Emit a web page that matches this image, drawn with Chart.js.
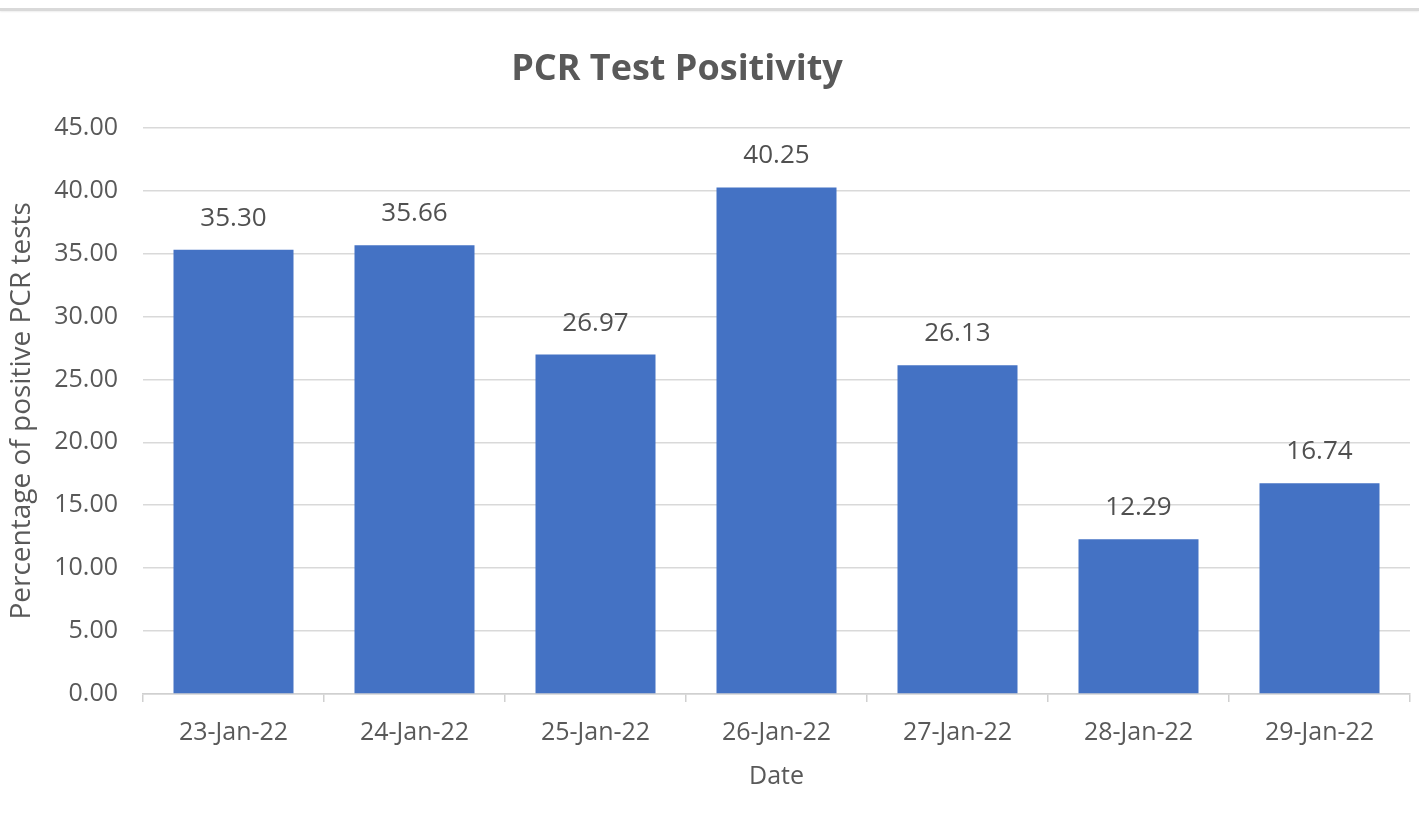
<!DOCTYPE html>
<html>
<head>
<meta charset="utf-8">
<script src="https://cdn.jsdelivr.net/npm/chart.js@4/dist/chart.umd.min.js"></script>
<style>
  html, body { margin: 0; padding: 0; background: #ffffff; }
  #wrap { position: relative; width: 1419px; height: 834px; }
  #topline { position: absolute; left: 0; top: 8px; width: 1419px; height: 3px; background: #d9d9d9; box-shadow: 0 1px 2px #eeeeee; }
  canvas { display: block; }
</style>
</head>
<body>
<div id="wrap">
  <canvas id="c" width="1419" height="834"></canvas>
  <div id="topline"></div>
</div>
<script>
const categories = ["23-Jan-22", "24-Jan-22", "25-Jan-22", "26-Jan-22", "27-Jan-22", "28-Jan-22", "29-Jan-22"];
const positivity = [35.30, 35.66, 26.97, 40.25, 26.13, 12.29, 16.74];
const yTicks = [0, 5, 10, 15, 20, 25, 30, 35, 40, 45];

const FONT = "'Open Sans', 'Noto Sans', sans-serif";
const TEXT = '#595959';

const valueLabels = {
  id: 'valueLabels',
  afterDatasetsDraw(chart) {
    const ctx = chart.ctx;
    const meta = chart.getDatasetMeta(0);
    const data = chart.data.datasets[0].data;
    ctx.save();
    ctx.font = '26px ' + FONT;
    ctx.fillStyle = '#505050';
    ctx.textAlign = 'center';
    ctx.textBaseline = 'middle';
    meta.data.forEach((el, i) => {
      ctx.fillText(data[i].toFixed(2), el.x, el.y - 31.5);
    });
    ctx.restore();
  }
};

// shift the title centre slightly left, as in the original picture
const titleShift = {
  id: 'titleShift',
  afterLayout(chart) {
    if (chart.titleBlock) { chart.titleBlock.right -= 56; }
  }
};

new Chart(document.getElementById('c'), {
  type: 'bar',
  data: {
    labels: categories,
    datasets: [{
      label: 'PCR Test Positivity',
      data: positivity,
      backgroundColor: '#4472C4',
      borderWidth: 0,
      categoryPercentage: 1.0,
      barPercentage: 0.663
    }]
  },
  options: {
    responsive: false,
    animation: false,
    devicePixelRatio: 1,
    layout: { padding: { left: 0, right: 9, top: 0, bottom: 0 } },
    plugins: {
      legend: { display: false },
      tooltip: { enabled: false },
      title: {
        display: true,
        text: 'PCR Test Positivity',
        color: TEXT,
        font: { family: FONT, size: 36, weight: 'bold' },
        padding: { top: 48, bottom: 36.5 }
      }
    },
    scales: {
      x: {
        grid: { display: true, drawOnChartArea: false, drawTicks: true, tickLength: 8, color: '#d0d0d0', lineWidth: 1.5, offset: true },
        border: { display: true, color: '#d0d0d0', width: 1.5 },
        ticks: { color: TEXT, font: { family: FONT, size: 25 }, padding: 16, maxRotation: 0, autoSkip: false },
        title: { display: true, text: 'Date', color: TEXT, font: { family: FONT, size: 25 }, padding: { top: 10, bottom: 42 } },
        afterFit(scale) { scale.height = 140; }
      },
      y: {
        min: yTicks[0],
        max: yTicks[yTicks.length - 1],
        afterBuildTicks(scale) { scale.ticks = yTicks.map(v => ({ value: v })); },
        grid: { color: '#d9d9d9', lineWidth: 1.5, drawTicks: false },
        border: { display: false },
        ticks: { color: TEXT, font: { family: FONT, size: 25 }, padding: 25, callback: v => Number(v).toFixed(2) },
        title: { display: true, text: 'Percentage of positive PCR tests', color: TEXT, font: { family: FONT, size: 28 }, padding: { top: 5, bottom: 6 } },
        afterFit(scale) { scale.width = 143; }
      }
    }
  },
  plugins: [valueLabels, titleShift]
});
</script>
</body>
</html>
